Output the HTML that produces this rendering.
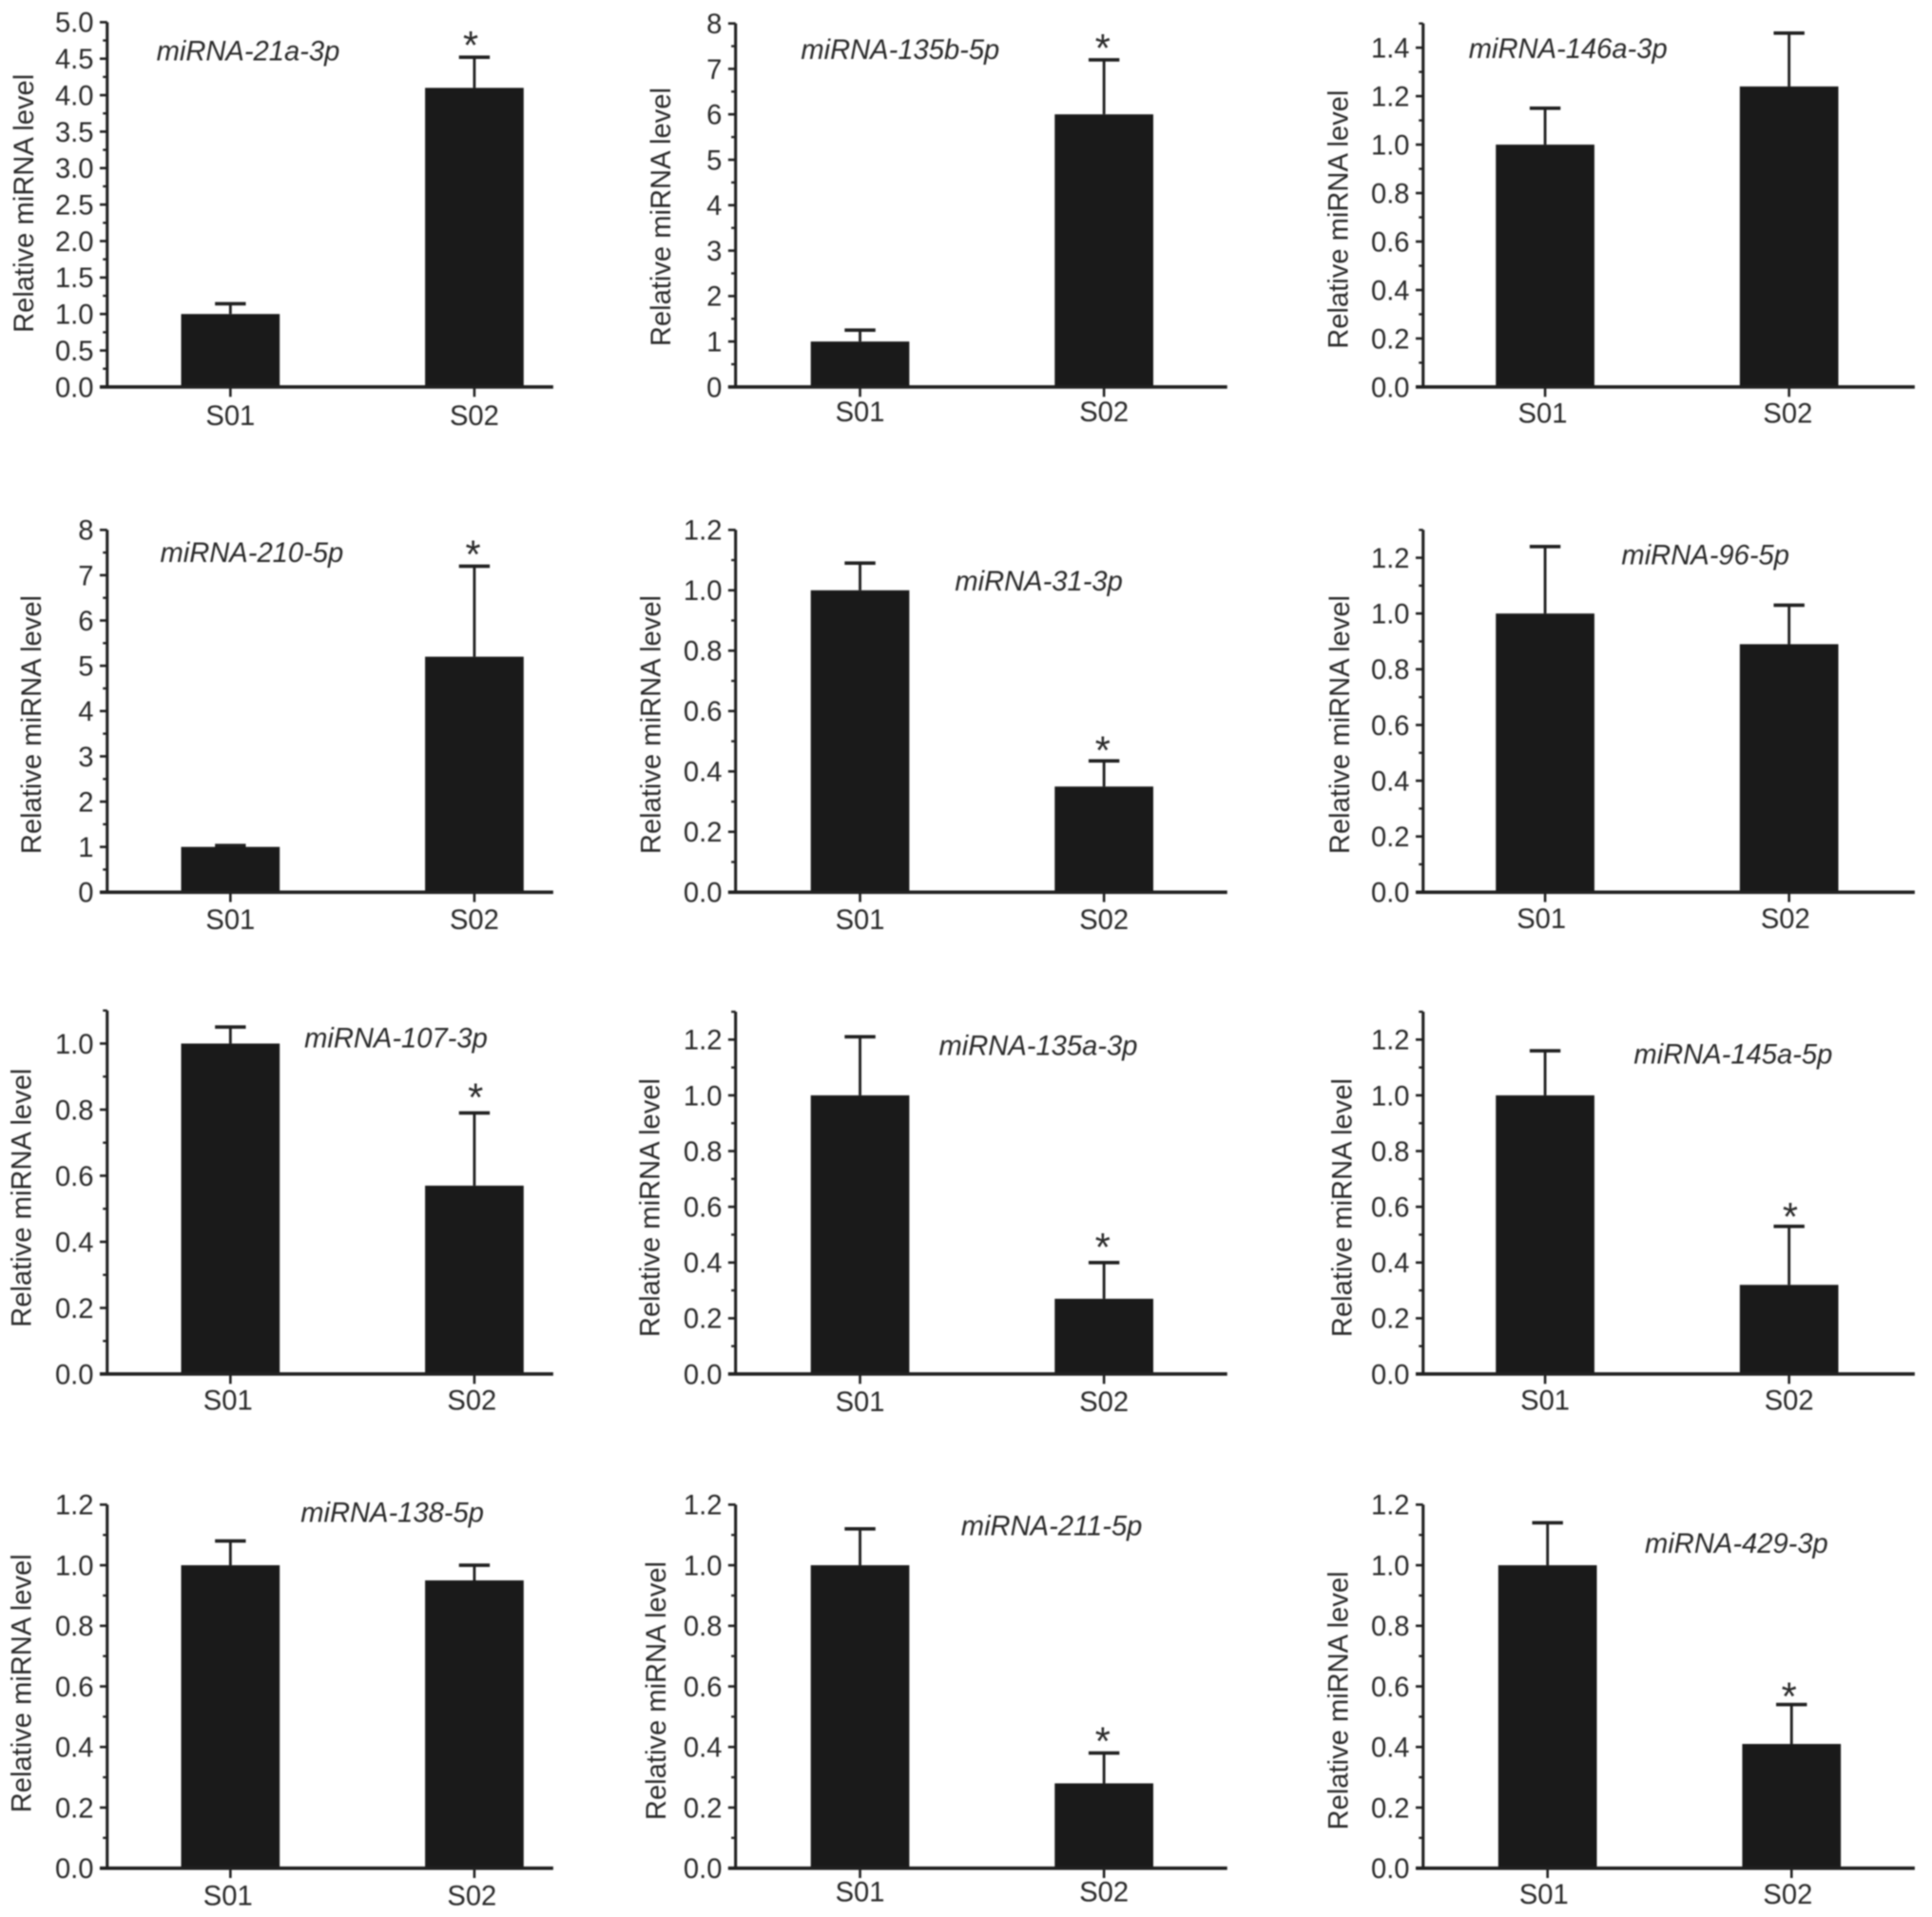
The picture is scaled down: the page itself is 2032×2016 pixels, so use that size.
<!DOCTYPE html>
<html lang="en">
<head>
<meta charset="utf-8">
<title>Relative miRNA levels</title>
<style>
html,body{margin:0;padding:0;background:#fff;}
body{width:2032px;height:2016px;overflow:hidden;}
svg{display:block;filter:blur(0.7px);}
text{font-family:"Liberation Sans",Arial,sans-serif;fill:#2a2a2a;}
</style>
</head>
<body>
<svg id="chart" xmlns="http://www.w3.org/2000/svg" width="2032" height="2016" viewBox="0 0 1568 1555.6"></svg>
<script>
const panelNames = ['miRNA-21a-3p','miRNA-135b-5p','miRNA-146a-3p','miRNA-210-5p','miRNA-31-3p','miRNA-96-5p','miRNA-107-3p','miRNA-135a-3p','miRNA-145a-5p','miRNA-138-5p','miRNA-211-5p','miRNA-429-3p'];
const categories = ['S01','S02'];
const yAxisTitle = 'Relative miRNA level';
const axisMaxima = [5,8,1.5,8,1.2,1.3,1.1,1.3,1.3,1.2,1.2,1.2];
const yTickLabels = [
  ['0.0','0.5','1.0','1.5','2.0','2.5','3.0','3.5','4.0','4.5','5.0'],
  ['0','1','2','3','4','5','6','7','8'],
  ['0.0','0.2','0.4','0.6','0.8','1.0','1.2','1.4'],
  ['0','1','2','3','4','5','6','7','8'],
  ['0.0','0.2','0.4','0.6','0.8','1.0','1.2'],
  ['0.0','0.2','0.4','0.6','0.8','1.0','1.2'],
  ['0.0','0.2','0.4','0.6','0.8','1.0'],
  ['0.0','0.2','0.4','0.6','0.8','1.0','1.2'],
  ['0.0','0.2','0.4','0.6','0.8','1.0','1.2'],
  ['0.0','0.2','0.4','0.6','0.8','1.0','1.2'],
  ['0.0','0.2','0.4','0.6','0.8','1.0','1.2'],
  ['0.0','0.2','0.4','0.6','0.8','1.0','1.2']
];
const s01Values = [1,1,1,1,1,1,1,1,1,1,1,1];
const s02Values = [4.1,6,1.24,5.2,0.35,0.89,0.57,0.27,0.32,0.95,0.28,0.41];
const s01ErrorTops = [1.14,1.25,1.15,1.03,1.09,1.24,1.05,1.21,1.16,1.08,1.12,1.14];
const s02ErrorTops = [4.52,7.2,1.46,7.2,0.435,1.03,0.79,0.4,0.53,1.0,0.38,0.54];
const s02Significant = [true,true,false,true,true,false,true,true,true,false,true,true];

// Page layout for each panel (not data): axis frame, bar centres, label anchors, star nudges.
const panelLayouts = [
  {left:87,right:449,base:314,top:18,c:[187,385],nameX:127,nameY:43,titleX:19,titleY:165,catY:337,catC:[187,385],starDx:-3,starDy:-4},
  {left:597,right:996,base:314,top:19,c:[698,896],nameX:650,nameY:42,titleX:536,titleY:176,catY:334,catC:[698,896],starDx:-1,starDy:-4},
  {left:1155,right:1554,base:314,top:19,c:[1254,1452],nameX:1192,nameY:41,titleX:1086,titleY:178,catY:335,catC:[1252,1451],starDx:0,starDy:0},
  {left:87,right:449,base:724,top:430,c:[187,385],nameX:130,nameY:450,titleX:25,titleY:588,catY:746,catC:[187,385],starDx:-1,starDy:-4},
  {left:597,right:996,base:724,top:430,c:[698,896],nameX:775,nameY:473,titleX:528,titleY:588,catY:746,catC:[698,896],starDx:-1,starDy:-3},
  {left:1155,right:1554,base:724,top:430,c:[1254,1452],nameX:1316,nameY:452,titleX:1087,titleY:588,catY:745,catC:[1251,1449],starDx:0,starDy:0},
  {left:87,right:449,base:1115,top:820,c:[187,385],nameX:247,nameY:844,titleX:17,titleY:972,catY:1136,catC:[185,383],starDx:1,starDy:-7},
  {left:597,right:996,base:1115,top:821,c:[698,896],nameX:762,nameY:850,titleX:527,titleY:980,catY:1137,catC:[698,896],starDx:-1,starDy:-7},
  {left:1155,right:1554,base:1115,top:821,c:[1254,1452],nameX:1326,nameY:857,titleX:1089,titleY:980,catY:1136,catC:[1254,1452],starDx:1,starDy:-2},
  {left:87,right:449,base:1516,top:1221,c:[187,385],nameX:244,nameY:1229,titleX:17,titleY:1366,catY:1538,catC:[185,383],starDx:0,starDy:0},
  {left:597,right:996,base:1516,top:1221,c:[698,896],nameX:780,nameY:1240,titleX:532,titleY:1372,catY:1535,catC:[698,896],starDx:-1,starDy:-4},
  {left:1155,right:1554,base:1516,top:1221,c:[1256,1454],nameX:1335,nameY:1254,titleX:1086,titleY:1380,catY:1537,catC:[1253,1451],starDx:-2,starDy:-1}
];

const NS = 'http://www.w3.org/2000/svg';
const svg = document.getElementById('chart');
const INK = '#202020';
const BAR = '#1a1a1a';
const TITLE_SIZE = 22.5;
const NAME_SIZE = 22.5;
const TICK_SIZE = 22.5;

function make(tag, parent, attrs) {
  const el = document.createElementNS(NS, tag);
  for (const k in attrs) el.setAttribute(k, attrs[k]);
  parent.appendChild(el);
  return el;
}
function line(parent, x1, y1, x2, y2, w) {
  return make('line', parent, {x1:x1, y1:y1, x2:x2, y2:y2, stroke:INK, 'stroke-width':w});
}
function yScale(i, value) {
  const p = panelLayouts[i];
  return p.base - (value / axisMaxima[i]) * (p.base - p.top);
}

panelNames.forEach(function (name, i) {
  const p = panelLayouts[i];
  const group = make('g', svg, {});
  
  

  const series = [
    {value: s01Values[i], err: s01ErrorTops[i], star: false},
    {value: s02Values[i], err: s02ErrorTops[i], star: s02Significant[i]}
  ];

  series.forEach(function (s, j) {
    const yTop = yScale(i, s.value);
    const yErr = yScale(i, s.err);
    const cx = p.c[j];

    const stem = line(group, cx, yErr, cx, yTop, 2.2);
    
    

    const cap = line(group, cx - 12.5, yErr, cx + 12.5, yErr, 2.8);
    
    

    const bar = make('rect', group, {x: cx - 40, y: yTop, width: 80, height: p.base - yTop, fill: BAR});
    
    

    const xTick = line(group, cx, p.base, cx, p.base + 8, 2);
    
    

    const catLabel = make('text', group, {x: p.catC[j], y: p.catY + 8, 'text-anchor': 'middle', 'font-size': TICK_SIZE});
    catLabel.textContent = categories[j];
    
    

    if (s.star) {
      const star = make('text', group, {x: cx + p.starDx, y: yErr + 5.5 + p.starDy, 'text-anchor': 'middle', 'font-size': 32});
      star.textContent = '*';
      
      
    }
  });

  const yAxis = line(group, p.left, p.top, p.left, p.base + 1, 2.4);
  
  

  const xAxis = line(group, p.left - 6, p.base, p.right, p.base, 2.8);
  
  

  const labels = yTickLabels[i];
  const step = parseFloat(labels[1]) - parseFloat(labels[0]);
  labels.forEach(function (label) {
    const v = parseFloat(label);
    const y = yScale(i, v);

    const tick = line(group, p.left - 6, y, p.left, y, 2);
    
    

    const tickLabel = make('text', group, {x: p.left - 11, y: y + 8, 'text-anchor': 'end', 'font-size': TICK_SIZE});
    tickLabel.textContent = label;
    
    

    const minorValue = v + step / 2;
    if (minorValue <= axisMaxima[i] + 1e-9) {
      const minorY = yScale(i, minorValue);
      const minor = line(group, p.left - 3.5, minorY, p.left, minorY, 1.8);
      
      
    }
  });

  const title = make('text', group, {
    x: 0, y: 0, 'text-anchor': 'middle', 'font-size': TITLE_SIZE,
    transform: 'translate(' + (p.titleX + 8) + ',' + p.titleY + ') rotate(-90)'
  });
  title.textContent = yAxisTitle;
  
  

  const nameLabel = make('text', group, {x: p.nameX, y: p.nameY + 6, 'font-size': NAME_SIZE, 'font-style': 'italic'});
  nameLabel.textContent = name;
  
  
});
</script>
</body>
</html>
